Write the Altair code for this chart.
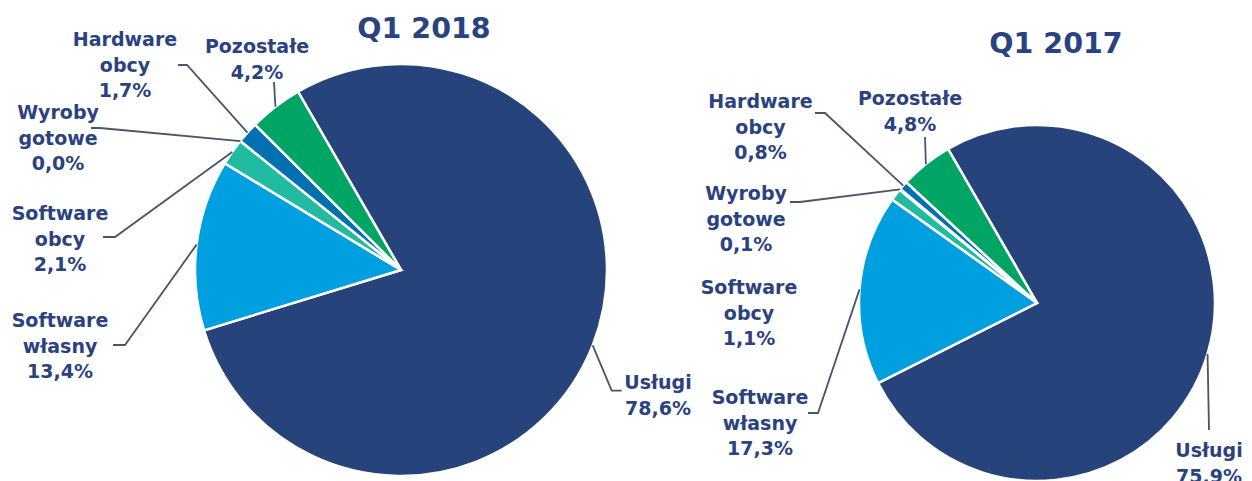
import math
import altair as alt
import pandas as pd

# ---- data ----
categories = ["Usługi", "Software własny", "Software obcy", "Wyroby gotowe", "Hardware obcy", "Pozostałe"]
label_names = ["Usługi", "Software\nwłasny", "Software\nobcy", "Wyroby\ngotowe", "Hardware\nobcy", "Pozostałe"]
values_2018 = [78.6, 13.4, 2.1, 0.0, 1.7, 4.2]
values_2017 = [75.9, 17.3, 1.1, 0.1, 0.8, 4.8]
titles = ["Q1 2018", "Q1 2017"]
colors = ["#27437C", "#009FE0", "#20BBA0", "#7FCFEA", "#0070B0", "#00A566"]

# ---- layout (page pixel coordinates) ----
W, H, M = 1236, 473, 8
START = -math.pi / 6
LINE_H = 25.5
TEXT_COLOR = "#2B4280"
LEADER_COLOR = "#4A5568"

layout = {
    "Q1 2018": dict(
        cx=401, cy=270, r=206, title=(424, 38),
        labels={
            "Usługi": (658, 389, [(611.7, 390.7), (621.7, 390.7)]),
            "Software własny": (60, 327, [(125, 345), (113, 345)]),
            "Software obcy": (60, 220, [(115, 237), (103, 237)]),
            "Wyroby gotowe": (58, 119, [(100, 128), (91, 128)]),
            "Hardware obcy": (125, 46, [(187, 65), (178, 65)]),
            "Pozostałe": (257, 53, [(274, 82)]),
        },
    ),
    "Q1 2017": dict(
        cx=1037, cy=303, r=178, title=(1056, 53),
        labels={
            "Usługi": (1209, 457, [(1209, 430)]),
            "Software własny": (760, 404, [(818, 413), (808, 413)]),
            "Software obcy": (749, 294, []),
            "Wyroby gotowe": (746, 200, [(800, 202), (790, 202)]),
            "Hardware obcy": (760.5, 108, [(825, 113), (815, 113)]),
            "Pozostałe": (910, 105, [(925, 137)]),
        },
    ),
}

series = {"Q1 2018": values_2018, "Q1 2017": values_2017}

def fmt(v):
    return f"{v:.1f}".replace(".", ",") + "%"

arc_rows, text_rows, line_rows, title_rows = [], [], [], []
for pie, vals in series.items():
    L = layout[pie]
    title_rows.append({"x": L["title"][0], "y": L["title"][1], "t": pie})
    cum = 0.0
    total = sum(vals)
    for i, (cat, name, v) in enumerate(zip(categories, label_names, vals)):
        arc_rows.append({"pie": pie, "cat": cat, "value": v, "idx": i})
        mid = START + 2 * math.pi * (cum + v / 2) / total
        cum += v
        lx, ly, elbow = L["labels"][cat]
        lines = name.split("\n") + [fmt(v)]
        for k, t in enumerate(lines):
            text_rows.append({"x": lx, "y": ly + k * LINE_H, "t": t})
        if elbow:
            ex = L["cx"] + L["r"] * math.sin(mid)
            ey = L["cy"] - L["r"] * math.cos(mid)
            pts = [(ex, ey)] + elbow
            for k, (px, py) in enumerate(pts):
                line_rows.append({"x": px, "y": py, "seg": f"{pie}-{cat}", "k": k})

arcs = pd.DataFrame(arc_rows)
texts = pd.DataFrame(text_rows)
leaders = pd.DataFrame(line_rows)
tdf = pd.DataFrame(title_rows)

xs = alt.Scale(domain=[M, M + W], range=[0, W], nice=False, zero=False)
ys = alt.Scale(domain=[M, M + H], range=[0, H], nice=False, zero=False)

layers = []
for pie in series:
    L = layout[pie]
    layers.append(
        alt.Chart(arcs)
        .transform_filter(alt.datum.pie == pie)
        .mark_arc(radius=L["r"], stroke="white", strokeWidth=2.5)
        .encode(
            theta=alt.Theta("value:Q", stack=True,
                            scale=alt.Scale(domain=[0, 100], range=[START, START + 2 * math.pi])),
            color=alt.Color("cat:N", scale=alt.Scale(domain=categories, range=colors), legend=None),
            order=alt.Order("idx:Q"),
            x=alt.value(L["cx"] - M),
            y=alt.value(L["cy"] - M),
        )
    )

lead = alt.Chart(leaders).mark_line(color=LEADER_COLOR, strokeWidth=1.8).encode(
    x=alt.X("x:Q", scale=xs, axis=None),
    y=alt.Y("y:Q", scale=ys, axis=None),
    detail="seg:N",
    order="k:Q",
)

lab = alt.Chart(texts).mark_text(
    font="DejaVu Sans", fontWeight="bold", fontSize=19, color=TEXT_COLOR,
    align="center", baseline="alphabetic",
).encode(
    x=alt.X("x:Q", scale=xs, axis=None),
    y=alt.Y("y:Q", scale=ys, axis=None),
    text="t:N",
)

ttl = alt.Chart(tdf).mark_text(
    font="DejaVu Sans", fontWeight="bold", fontSize=28.5, color=TEXT_COLOR,
    align="center", baseline="alphabetic",
).encode(
    x=alt.X("x:Q", scale=xs, axis=None),
    y=alt.Y("y:Q", scale=ys, axis=None),
    text="t:N",
)

chart = (
    alt.layer(*layers, lead, lab, ttl)
    .properties(width=W, height=H, padding=0, autosize=alt.AutoSizeParams(type="none"))
    .configure_view(stroke=None)
)

chart.save("out.html", embed_options={"renderer": "svg", "actions": False})
